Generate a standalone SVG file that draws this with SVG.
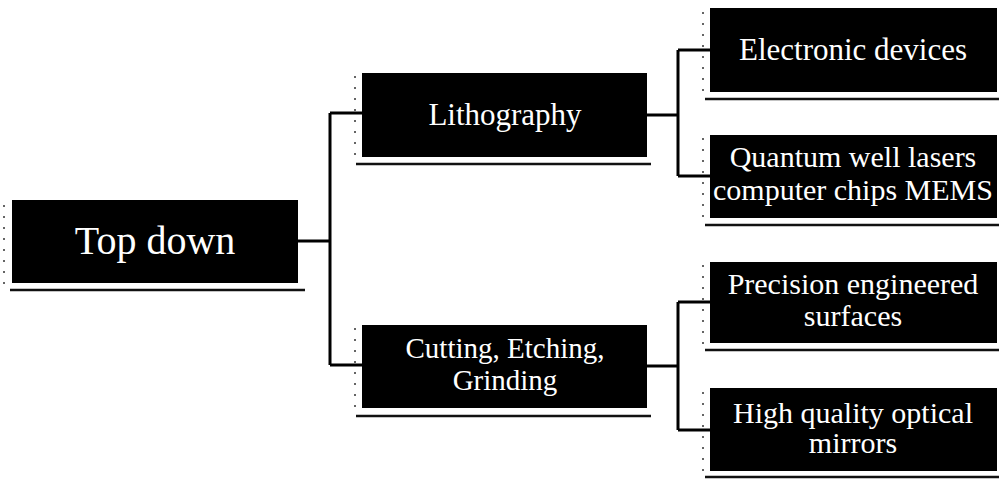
<svg xmlns="http://www.w3.org/2000/svg" width="999" height="479" viewBox="0 0 999 479">
  <style>
    .box { fill: #000; }
    .shadow { stroke: #111; stroke-width: 2.5; fill: none; }
    .dots { stroke: #333; stroke-width: 1.5; stroke-dasharray: 2 9; fill: none; }
    .t { fill: #fff; font-family: "Liberation Serif", "Times New Roman", serif; text-anchor: middle; }
    .conn { stroke: #000; stroke-width: 3; fill: none; stroke-linejoin: miter; }
  </style>
  <rect width="999" height="479" fill="#fff"/>

  <g id="connectors">
    <path class="conn" d="M298,241 H330 M330,113 V365 M330,113 H362 M330,365 H362"/>
    <path class="conn" d="M647,115 H678 M678,50 V176 M678,50 H710 M678,176 H710"/>
    <path class="conn" d="M647,366 H678 M678,302 V430 M678,302 H710 M678,430 H710"/>
  </g>

  <g id="node-topdown">
    <line class="shadow" x1="10" y1="290" x2="305" y2="290"/>
    <line class="dots" x1="4" y1="205" x2="4" y2="285"/>
    <rect class="box" x="12" y="200" width="286" height="83"/>
    <text class="t" x="155" y="254" font-size="40">Top down</text>
  </g>

  <g id="node-lithography">
    <line class="shadow" x1="356" y1="164" x2="651" y2="164"/>
    <line class="dots" x1="355" y1="76" x2="355" y2="158"/>
    <rect class="box" x="362" y="73" width="285" height="84"/>
    <text class="t" x="505" y="125" font-size="31">Lithography</text>
  </g>

  <g id="node-cutting">
    <line class="shadow" x1="356" y1="416" x2="651" y2="416"/>
    <line class="dots" x1="355" y1="328" x2="355" y2="410"/>
    <rect class="box" x="362" y="325" width="285" height="83"/>
    <text class="t" x="505" y="358" font-size="29">Cutting, Etching,</text>
    <text class="t" x="505" y="390" font-size="29">Grinding</text>
  </g>

  <g id="node-electronic">
    <line class="shadow" x1="705" y1="99" x2="999" y2="99"/>
    <line class="dots" x1="703" y1="12" x2="703" y2="94"/>
    <rect class="box" x="710" y="8" width="287" height="84"/>
    <text class="t" x="853" y="60" font-size="31">Electronic devices</text>
  </g>

  <g id="node-quantum">
    <line class="shadow" x1="705" y1="225" x2="999" y2="225"/>
    <line class="dots" x1="703" y1="138" x2="703" y2="220"/>
    <rect class="box" x="710" y="135" width="287" height="83"/>
    <text class="t" x="853" y="167" font-size="30">Quantum well lasers</text>
    <text class="t" x="853" y="200" font-size="30">computer chips MEMS</text>
  </g>

  <g id="node-precision">
    <line class="shadow" x1="705" y1="350" x2="999" y2="350"/>
    <line class="dots" x1="703" y1="265" x2="703" y2="345"/>
    <rect class="box" x="710" y="262" width="287" height="81"/>
    <text class="t" x="853" y="294" font-size="30">Precision engineered</text>
    <text class="t" x="853" y="326" font-size="30">surfaces</text>
  </g>

  <g id="node-highquality">
    <line class="shadow" x1="705" y1="477" x2="999" y2="477"/>
    <line class="dots" x1="703" y1="392" x2="703" y2="472"/>
    <rect class="box" x="710" y="388" width="287" height="83"/>
    <text class="t" x="853" y="423" font-size="30">High quality optical</text>
    <text class="t" x="853" y="453" font-size="30">mirrors</text>
  </g>
</svg>
